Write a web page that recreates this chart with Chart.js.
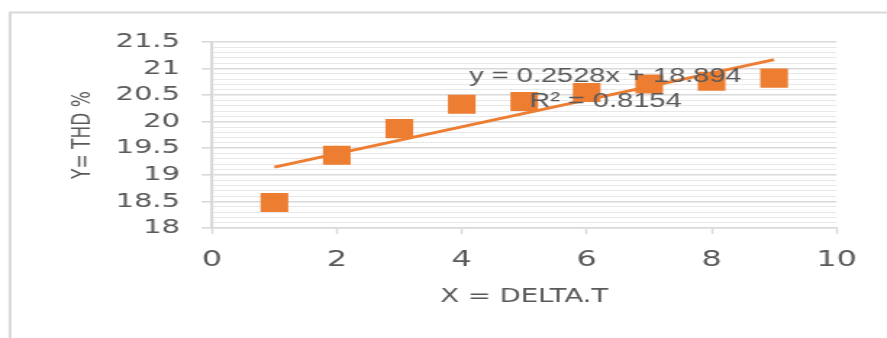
<!DOCTYPE html>
<html>
<head>
<meta charset="utf-8">
<script src="https://cdn.jsdelivr.net/npm/chart.js@4"></script>
<style>
  html, body { margin: 0; padding: 0; background: #ffffff; overflow: hidden; }
  #wrap { width: 612px; height: 338px; transform: scaleX(1.4493); transform-origin: 0 0; }
  canvas { display: block; }
</style>
</head>
<body>
<div id="wrap"><canvas id="chart" width="612" height="338"></canvas></div>
<script>
// Measured THD against DELTA.T
const deltaT = [1, 2, 3, 4, 5, 6, 7, 8, 9];
const thdPercent = [18.48, 19.37, 19.87, 20.33, 20.38, 20.55, 20.71, 20.76, 20.82];

// Linear trendline as reported on the chart
const trendSlope = 0.2528;
const trendIntercept = 18.894;
const trendR2 = 0.8154;

// Axis ranges and tick steps
const xRange = [0, 10];
const xStep = 2;
const yRange = [18, 21.5];
const yMajorStep = 0.5;
const yMinorStep = 0.1;

const xTitle = 'X = DELTA.T';
const yTitle = 'Y= THD %';

const ORANGE = '#ED7D31';
const TEXT = '#595959';
const MAJOR = '#d9d9d9';
const MINOR = '#e8e8e8';
const AXIS_FONT = '"DejaVu Sans", sans-serif';

const scatterPoints = deltaT.map((x, i) => ({ x: x, y: thdPercent[i] }));
const trendX = [deltaT[0], deltaT[deltaT.length - 1]];
const trendPoints = trendX.map(x => ({ x: x, y: trendSlope * x + trendIntercept }));

function isMajor(v) {
  const k = v / yMajorStep;
  return Math.abs(k - Math.round(k)) < 1e-6;
}

// White background plus the outer chart frame (top and left edges)
const framePlugin = {
  id: 'frame',
  beforeDraw(chart) {
    const ctx = chart.ctx;
    ctx.save();
    ctx.fillStyle = '#ffffff';
    ctx.fillRect(0, 0, chart.width, chart.height);
    ctx.strokeStyle = MAJOR;
    ctx.lineWidth = 2;
    ctx.beginPath();
    ctx.moveTo(6.9, chart.height);
    ctx.lineTo(6.9, 12.5);
    ctx.lineTo(chart.width, 12.5);
    ctx.stroke();
    ctx.restore();
  }
};

// Trendline equation and R² label
const equationPlugin = {
  id: 'equation',
  afterDraw(chart) {
    const ctx = chart.ctx;
    const xs = chart.scales.x, ys = chart.scales.y;
    const cx = xs.getPixelForValue(6.3);
    ctx.save();
    ctx.font = '20px "Liberation Sans", Arial, sans-serif';
    ctx.fillStyle = TEXT;
    ctx.textAlign = 'center';
    ctx.textBaseline = 'middle';
    ctx.fillText('y = ' + trendSlope + 'x + ' + trendIntercept, cx, ys.getPixelForValue(20.85));
    ctx.fillText('R\u00B2 = ' + trendR2, cx, ys.getPixelForValue(20.375));
    ctx.restore();
  }
};

new Chart(document.getElementById('chart'), {
  type: 'scatter',
  data: {
    datasets: [
      {
        label: 'THD',
        data: scatterPoints,
        pointStyle: 'rect',
        pointRadius: 13.5,
        pointHoverRadius: 13.5,
        pointBackgroundColor: ORANGE,
        pointBorderColor: ORANGE,
        pointBorderWidth: 0,
        showLine: false
      },
      {
        label: 'Linear',
        type: 'line',
        data: trendPoints,
        borderColor: ORANGE,
        borderWidth: 2.8,
        pointRadius: 0,
        fill: false,
        tension: 0
      }
    ]
  },
  options: {
    responsive: false,
    animation: false,
    events: [],
    layout: { padding: { top: 42, right: 34.8, bottom: 0, left: 0 } },
    plugins: {
      legend: { display: false },
      tooltip: { enabled: false }
    },
    scales: {
      x: {
        type: 'linear',
        position: 'bottom',
        min: xRange[0],
        max: xRange[1],
        afterFit(scale) { scale.height = 110; },
        ticks: {
          stepSize: xStep,
          color: TEXT,
          padding: 13,
          maxRotation: 0,
          font: { family: AXIS_FONT, size: 22 }
        },
        grid: {
          display: true,
          drawOnChartArea: false,
          drawTicks: true,
          tickLength: 6,
          tickWidth: 1.4,
          tickColor: MAJOR
        },
        border: { display: true, color: MAJOR, width: 1.6 },
        title: {
          display: true,
          text: xTitle,
          color: TEXT,
          font: { family: AXIS_FONT, size: 19 },
          padding: { top: 0, bottom: 30 }
        }
      },
      y: {
        type: 'linear',
        position: 'left',
        min: yRange[0],
        max: yRange[1],
        afterFit(scale) { scale.width = 146.2; },
        ticks: {
          stepSize: yMinorStep,
          autoSkip: false,
          color: TEXT,
          padding: 15,
          font: { family: AXIS_FONT, size: 20 },
          callback(v) { return isMajor(v) ? String(Math.round(v * 2) / 2) : ''; }
        },
        grid: {
          drawTicks: true,
          tickLength: 7,
          color: c => (c.tick && isMajor(c.tick.value)) ? MAJOR : MINOR,
          lineWidth: c => (c.tick && isMajor(c.tick.value)) ? 1.6 : 1,
          tickColor: c => (c.tick && isMajor(c.tick.value)) ? MAJOR : 'rgba(0,0,0,0)',
          tickWidth: 1.6
        },
        border: { display: true, color: MAJOR, width: 2.2 },
        title: {
          display: true,
          text: yTitle,
          color: TEXT,
          font: { family: AXIS_FONT, size: 17 },
          padding: { top: 47, bottom: 0 }
        }
      }
    }
  },
  plugins: [framePlugin, equationPlugin]
});
</script>
</body>
</html>
